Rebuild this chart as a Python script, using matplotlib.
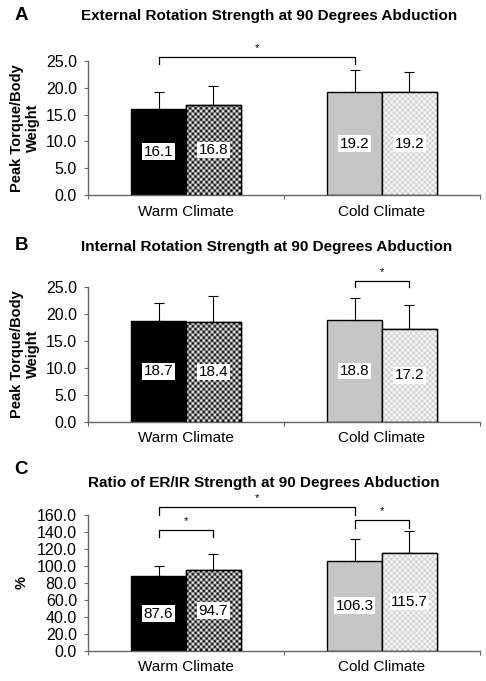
import numpy as np
import matplotlib.pyplot as plt

plt.rcParams['font.family'] = ['Liberation Sans', 'DejaVu Sans']

categories = ['Warm Climate', 'Cold Climate']

# panel A: external rotation (peak torque / body weight)
er_means = [[16.1, 16.8], [19.2, 19.2]]
er_sd = [[3.1, 3.5], [4.1, 3.7]]
# panel B: internal rotation
ir_means = [[18.7, 18.4], [18.8, 17.2]]
ir_sd = [[3.2, 4.9], [4.2, 4.4]]
# panel C: ER/IR ratio (%)
ratio_means = [[87.6, 94.7], [106.3, 115.7]]
ratio_sd = [[12.6, 19.7], [25.1, 25.5]]

titles = ['External Rotation Strength at 90 Degrees Abduction',
          'Internal Rotation Strength at 90 Degrees Abduction',
          'Ratio of ER/IR Strength at 90 Degrees Abduction']
letters = ['A', 'B', 'C']
ylabels = ['Peak Torque/Body\nWeight', 'Peak Torque/Body\nWeight', '%']
ylims = [25, 25, 160]
ysteps = [5, 5, 20]

# significance brackets: (group_i, bar_i, group_j, bar_j, y_top, y_drop)
brackets = [
    [(0, 0, 1, 0, 25.7, 24.4)],
    [(1, 0, 1, 1, 26.0, 25.0)],
    [(0, 0, 1, 0, 169.0, 160.0), (0, 0, 0, 1, 142.0, 133.5), (1, 0, 1, 1, 154.0, 145.0)],
]

W, H = 486, 681
fig = plt.figure(figsize=(W / 100, H / 100), dpi=100)

axes_px = [(88, 61, 195), (88, 286.7, 421.7), (88, 515, 650.7)]
title_px = [(269, 16), (267, 247), (264, 483)]
letter_px = [(21, 15), (21, 245), (21, 470)]
ylabel_x = [25, 25, 22]

bar_w = 0.28


def checker_fill(ax, rect, c1, c2, cell=2.8):
    x0, y0 = rect.get_x(), rect.get_y()
    x1, y1 = x0 + rect.get_width(), y0 + rect.get_height()
    p0 = ax.transData.transform((x0, y0))
    p1 = ax.transData.transform((x1, y1))
    nx = max(1, int(round(abs(p1[0] - p0[0]) / cell)))
    ny = max(1, int(round(abs(p1[1] - p0[1]) / cell)))
    grid = (np.add.outer(np.arange(ny), np.arange(nx)) % 2).astype(float)
    img = np.where(grid[..., None] > 0, np.array(c1, dtype=float), np.array(c2, dtype=float))
    im = ax.imshow(img, extent=(x0, x1, y0, y1), origin='lower',
                   interpolation='antialiased', aspect='auto', zorder=2)
    im.set_clip_path(rect)


panels = [(er_means, er_sd), (ir_means, ir_sd), (ratio_means, ratio_sd)]

for k, (means, sds) in enumerate(panels):
    left, top, bottom = axes_px[k]
    ax = fig.add_axes([left / W, 1 - bottom / H, (480 - left) / W, (bottom - top) / H])
    ax.set_xlim(0, 2)
    ax.set_ylim(0, ylims[k])
    ax.set_autoscale_on(False)

    m = np.array(means)
    s = np.array(sds)
    centers = np.arange(len(categories)) + 0.5
    xs = [centers - bar_w / 2, centers + bar_w / 2]
    styles = [
        [dict(color='black'), dict(checker=((0.0, 0.0, 0.0), (1.0, 1.0, 1.0)))],
        [dict(color='#c6c6c6'), dict(checker=((0.8, 0.8, 0.8), (1.0, 1.0, 1.0)))],
    ]
    bar_pos = {}
    for g in range(len(categories)):
        for b in range(2):
            x = xs[b][g]
            st = styles[g][b]
            fc = st.get('color', 'white')
            bars = ax.bar(x, m[g, b], width=bar_w, facecolor=fc,
                          edgecolor='black', linewidth=1.0, zorder=1)
            rect = bars[0]
            if 'checker' in st:
                checker_fill(ax, rect, *st['checker'])
                ax.bar(x, m[g, b], width=bar_w, facecolor='none',
                       edgecolor='black', linewidth=1.0, zorder=3)
            ax.errorbar(x, m[g, b], yerr=[[0], [s[g, b]]], fmt='none',
                        ecolor='black', elinewidth=0.8, capsize=3.5, capthick=0.8, zorder=4)
            ax.text(x, m[g, b] / 2, f'{m[g, b]:.1f}', ha='center', va='center',
                    fontsize=11, zorder=5,
                    bbox=dict(facecolor='white', edgecolor='none', pad=1.0))
            bar_pos[(g, b)] = x

    for (gi, bi, gj, bj, ytop, ydrop) in brackets[k]:
        xa, xb = bar_pos[(gi, bi)], bar_pos[(gj, bj)]
        ax.plot([xa, xa, xb, xb], [ydrop, ytop, ytop, ydrop], color='black',
                lw=0.9, clip_on=False, zorder=6)
        ax.text((xa + xb) / 2, ytop + ylims[k] * 0.03, '*', ha='center', va='bottom',
                fontsize=8, clip_on=False)

    ticks = np.arange(0, ylims[k] + 0.1, ysteps[k])
    ax.set_yticks(ticks)
    ax.set_yticklabels([f'{v:.1f}' for v in ticks])
    ax.set_xticks([0, 1, 2])
    ax.set_xticklabels([])
    ax.set_xticks(centers, minor=True)
    ax.set_xticklabels(categories, minor=True)
    ax.tick_params(axis='x', which='major', direction='out', length=3, color='#666666')
    ax.tick_params(axis='x', which='minor', length=0, labelsize=11, pad=7)
    ax.tick_params(axis='y', direction='out', length=3, color='#666666', labelsize=11.5, pad=5)
    for side in ['top', 'right']:
        ax.spines[side].set_visible(False)
    for side in ['left', 'bottom']:
        ax.spines[side].set_color('#666666')
        ax.spines[side].set_linewidth(1.0)

    cy = 1 - (top + bottom) / 2 / H
    fig.text(ylabel_x[k] / W, cy, ylabels[k], rotation=90, ha='center', va='center',
             fontsize=10.5, fontweight='bold', linespacing=1.25)
    fig.text(title_px[k][0] / W, 1 - title_px[k][1] / H, titles[k], ha='center',
             va='center', fontsize=11, fontweight='bold')
    fig.text(letter_px[k][0] / W, 1 - letter_px[k][1] / H, letters[k], ha='center',
             va='center', fontsize=13.5, fontweight='bold')

fig.savefig('out.png', dpi=100)
